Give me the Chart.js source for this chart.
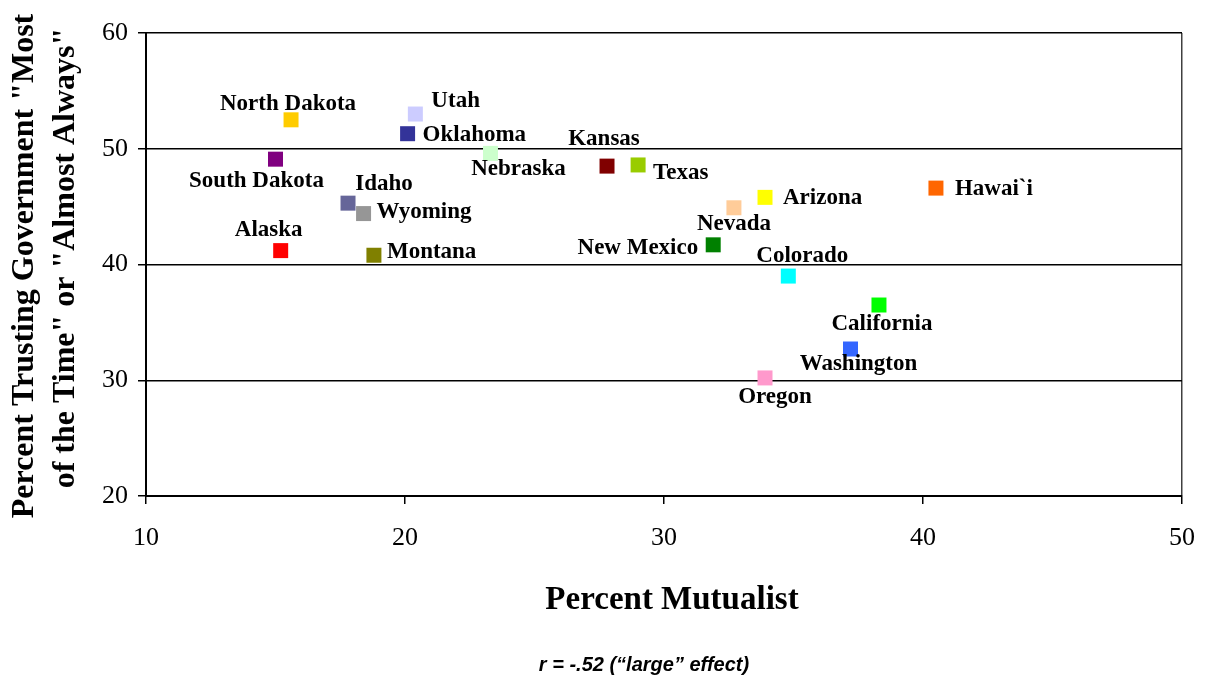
<!DOCTYPE html>
<html lang="en">
<head>
  <meta charset="UTF-8">
  <title>Trust in Government vs. Percent Mutualist</title>
  <script src="https://cdn.jsdelivr.net/npm/chart.js"></script>
  <style>
    html, body { margin: 0; padding: 0; background: #fff; }
    canvas { display: block; }
  </style>
</head>
<body>
  <canvas id="trustChart" width="1208" height="686"></canvas>
  <script>
    // data
    const states = ['North Dakota', 'Utah', 'Oklahoma', 'Nebraska', 'South Dakota', 'Idaho', 'Wyoming',
      'Alaska', 'Montana', 'Kansas', 'Texas', 'Arizona', 'Hawai`i', 'Nevada', 'New Mexico',
      'Colorado', 'California', 'Washington', 'Oregon'];
    const mutualist = [15.6, 20.4, 20.1, 23.3, 15.0, 17.8, 18.4, 15.2, 18.8, 27.8, 29.0, 33.9, 40.5,
      32.7, 31.9, 34.8, 38.3, 37.2, 33.9];
    const trust = [52.5, 53.0, 51.3, 49.6, 49.1, 45.3, 44.4, 41.2, 40.8, 48.5, 48.6, 45.8, 46.6,
      44.9, 41.7, 39.0, 36.5, 32.7, 30.2];
    const xTicks = [10, 20, 30, 40, 50];
    const yTicks = [20, 30, 40, 50, 60];

    const colors = ['#ffcc00', '#ccccff', '#333399', '#ccffcc', '#800080', '#666699', '#969696',
      '#ff0000', '#808000', '#800000', '#99cc00', '#ffff00', '#ff6600', '#ffcc99', '#008000',
      '#00ffff', '#00ff00', '#3366ff', '#ff99cc'];

    // where each state's name sits relative to its marker: [align, dx, dy]
    const labelPlace = {
      'North Dakota': ['center', -3, -16],
      'Utah': ['left', 16, -13],
      'Oklahoma': ['left', 15, 1],
      'Nebraska': ['center', 28, 16],
      'South Dakota': ['center', -19, 22],
      'Idaho': ['center', 36, -19],
      'Wyoming': ['left', 13, -2],
      'Alaska': ['center', -12, -21],
      'Montana': ['left', 13, -3],
      'Kansas': ['center', -3, -27],
      'Texas': ['left', 15, 8],
      'Arizona': ['left', 18, 1],
      'Hawai`i': ['left', 19, 1],
      'Nevada': ['center', 0, 16],
      'New Mexico': ['right', -15, 3],
      'Colorado': ['center', 14, -20],
      'California': ['center', 3, 19],
      'Washington': ['center', 8, 15],
      'Oregon': ['center', 10, 19]
    };

    const serif = '"Liberation Serif", "Times New Roman", serif';

    const stateLabels = {
      id: 'stateLabels',
      afterDatasetsDraw(chart) {
        const ctx = chart.ctx;
        const pts = chart.getDatasetMeta(0).data;
        ctx.save();
        ctx.font = 'bold 23px ' + serif;
        ctx.fillStyle = '#000';
        ctx.textBaseline = 'middle';
        states.forEach((name, i) => {
          const p = labelPlace[name];
          ctx.textAlign = p[0];
          ctx.fillText(name, pts[i].x + p[1], pts[i].y + p[2]);
        });
        ctx.restore();
      }
    };

    // axis titles and the note under the chart
    const extraText = {
      id: 'extraText',
      afterDraw(chart) {
        const ctx = chart.ctx;
        ctx.save();
        ctx.fillStyle = '#000';
        ctx.textAlign = 'center';
        ctx.textBaseline = 'middle';

        ctx.font = 'bold 33px ' + serif;
        ctx.fillText('Percent Mutualist', 672, 600);

        ctx.font = 'italic bold 20px "Liberation Sans", Arial, sans-serif';
        ctx.fillText('r = -.52 (\u201clarge\u201d effect)', 644, 665);

        ctx.font = 'bold 32px ' + serif;
        ctx.translate(25, 262);
        ctx.rotate(-Math.PI / 2);
        ctx.fillText('Percent Trusting Government "Most', -4, 0);
        ctx.fillText('of the Time" or "Almost Always"', 4, 41);
        ctx.restore();
      }
    };

    const tickFont = { family: serif, size: 26 };

    new Chart(document.getElementById('trustChart'), {
      type: 'scatter',
      data: {
        datasets: [{
          data: states.map((s, i) => ({ x: mutualist[i], y: trust[i] })),
          backgroundColor: colors,
          borderColor: colors,
          borderWidth: 0,
          pointStyle: 'rect',
          pointRadius: 10.6,
          pointHoverRadius: 10.6
        }]
      },
      options: {
        responsive: false,
        animation: false,
        events: [],
        layout: { autoPadding: false, padding: { left: 0, top: 33, right: 26, bottom: 0 } },
        plugins: {
          legend: { display: false },
          tooltip: { enabled: false }
        },
        scales: {
          x: {
            type: 'linear',
            min: xTicks[0],
            max: xTicks[xTicks.length - 1],
            afterBuildTicks: s => { s.ticks = xTicks.map(v => ({ value: v })); },
            afterFit: s => {
              s.height = 190;
              s.paddingLeft = 0;
              s.paddingRight = 0;
            },
            ticks: { color: '#000', font: tickFont, padding: 19 },
            grid: {
              drawOnChartArea: true,
              color: c => c.index === xTicks.length - 1 ? '#404040' : 'rgba(0,0,0,0)',
              tickColor: '#000',
              tickLength: 8,
              lineWidth: 1.5
            },
            border: { color: '#000', width: 2 }
          },
          y: {
            min: yTicks[0],
            max: yTicks[yTicks.length - 1],
            afterBuildTicks: s => { s.ticks = yTicks.map(v => ({ value: v })); },
            afterFit: s => { s.width = 146; },
            ticks: { color: '#000', font: tickFont, padding: 10 },
            grid: { color: '#000', lineWidth: 1.5, tickLength: 8 },
            border: { color: '#000', width: 2 }
          }
        }
      },
      plugins: [stateLabels, extraText]
    });
  </script>
</body>
</html>
